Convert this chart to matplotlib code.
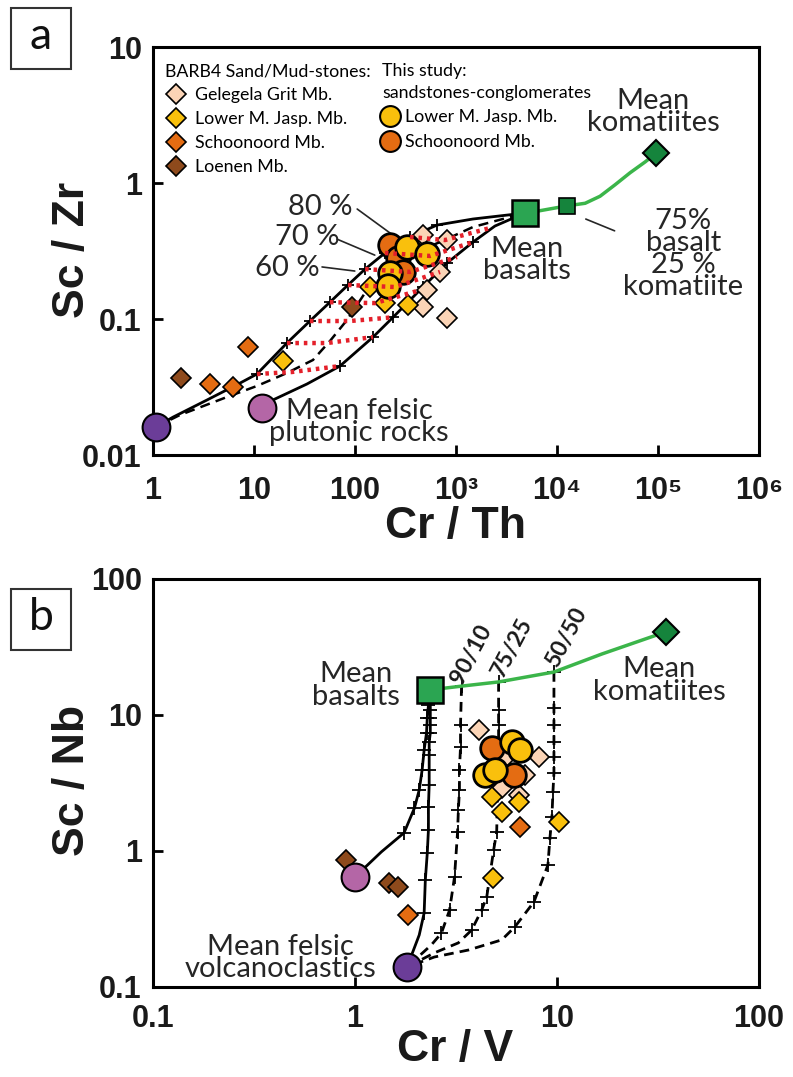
import matplotlib
matplotlib.use('Agg')
import matplotlib.pyplot as plt
from matplotlib.lines import Line2D
from matplotlib.patches import Rectangle

plt.rcParams['font.family'] = ['Lato', 'DejaVu Sans']
NARROW = ['Liberation Sans Narrow', 'Liberation Sans', 'DejaVu Sans']

PEACH = '#fbd4b6'
GOLD = '#f9c00c'
ORANGE = '#e46c12'
BROWN = '#8e4a1c'
PURPLE = '#6b3d98'
PINK = '#b466a6'
GREEN = '#2ba552'
DKGREEN = '#15843c'
GREENLINE = '#3bb54a'
RED = '#e4202a'

# ---------------- panel a : Cr/Th vs Sc/Zr ----------------
a_gelegela_x = [471, 815, 695, 516, 471, 815]
a_gelegela_y = [0.415, 0.381, 0.222, 0.163, 0.122, 0.102]
a_ljasp_x = [141, 198, 335, 19.4]
a_ljasp_y = [0.172, 0.131, 0.127, 0.0491]
a_schoon_x = [8.73, 3.67, 6.2]
a_schoon_y = [0.0622, 0.0333, 0.0316]
a_loenen_x = [1.89, 93.4]
a_loenen_y = [0.0368, 0.122]
a_study_ljasp_x = [327, 516, 222, 212]
a_study_ljasp_y = [0.338, 0.301, 0.218, 0.175]
a_study_schoon_x = [222, 267, 299]
a_study_schoon_y = [0.350, 0.281, 0.222]

a_felsic = (1.07, 0.0161)
a_plutonic = (12.0, 0.0222)
a_basalt = (4820, 0.602)
a_mix7525 = (12600, 0.68)
a_komatiite = (96000, 1.66)

a_upper_x = [1.07, 1.58, 3.43, 7.27, 10.7, 21.2, 35.8, 56.5, 85.3, 126, 198, 351, 649, 1473, 4820]
a_upper_y = [0.0161, 0.019, 0.0254, 0.0338, 0.0394, 0.0666, 0.0967, 0.133, 0.178, 0.233, 0.306, 0.401, 0.491, 0.544, 0.602]
a_mid_x = [1.07, 1.85, 5.4, 10.7, 21.2, 38.4, 56.5, 83.4, 131, 207, 375, 695, 1473, 4820]
a_mid_y = [0.0161, 0.0197, 0.0267, 0.0322, 0.0401, 0.05, 0.0689, 0.0984, 0.163, 0.229, 0.306, 0.368, 0.475, 0.602]
a_lower_x = [12.0, 15.4, 33.5, 71, 151, 238, 471, 815, 1473, 2430, 4820]
a_lower_y = [0.0222, 0.0254, 0.0333, 0.0451, 0.0737, 0.103, 0.172, 0.258, 0.368, 0.483, 0.602]
a_green_x = [4820, 6300, 12600, 19000, 26700, 37500, 52900, 74600, 96000]
a_green_y = [0.602, 0.62, 0.68, 0.71, 0.80, 0.97, 1.19, 1.43, 1.66]

# red dotted iso-proportion lines (upper curve -> lower curve)
a_iso_x = [[10.7, 23.8, 71], [21.2, 52.8, 151], [35.8, 89.2, 238], [56.5, 158, 440],
           [85.3, 249, 695], [126, 351, 1023], [198, 553, 1473], [351, 778, 2172]]
a_iso_y = [[0.0394, 0.0408, 0.0451], [0.0666, 0.0666, 0.0737], [0.0967, 0.0967, 0.103],
           [0.133, 0.131, 0.163], [0.178, 0.172, 0.222], [0.233, 0.222, 0.286],
           [0.306, 0.291, 0.368], [0.401, 0.381, 0.467]]

a_xticks = [1, 10, 100, 1e3, 1e4, 1e5, 1e6]
a_xlabels = ['1', '10', '100', '10³', '10⁴', '10⁵', '10⁶']
a_yticks = [0.01, 0.1, 1, 10]
a_ylabels = ['0.01', '0.1', '1', '10']

# ---------------- panel b : Cr/V vs Sc/Nb ----------------
b_gelegela_x = [4.09, 8.13, 5.51, 6.93, 5.33, 6.47]
b_gelegela_y = [7.76, 4.91, 4.83, 3.62, 2.91, 2.58]
b_ljasp_x = [4.75, 6.47, 5.33, 10.2, 4.81]
b_ljasp_y = [2.49, 2.29, 1.94, 1.63, 0.632]
b_schoon_x = [6.55, 1.84]
b_schoon_y = [1.50, 0.338]
b_loenen_x = [0.90, 1.48, 1.64]
b_loenen_y = [0.859, 0.582, 0.543]
b_study_ljasp_x = [5.97, 6.55, 4.38, 4.92]
b_study_ljasp_y = [6.33, 5.53, 3.62, 3.94]
b_study_schoon_x = [4.75, 6.11]
b_study_schoon_y = [5.72, 3.62]

b_felsic = (1.81, 0.140)
b_pink = (1.0, 0.644)
b_basalt = (2.36, 15.3)
b_komatiite = (34.5, 40.8)

b_pinkline_x = [1.0, 1.35, 1.75, 1.97, 2.08, 2.15, 2.20, 2.26, 2.28, 2.31, 2.36]
b_pinkline_y = [0.644, 0.984, 1.36, 2.07, 2.81, 3.94, 5.53, 7.38, 9.51, 11.8, 15.3]
b_solid_x = [1.81, 2.08, 2.20, 2.23, 2.28, 2.31, 2.31, 2.33, 2.33, 2.33, 2.33, 2.36, 2.36, 2.36, 2.36, 2.36]
b_solid_y = [0.140, 0.241, 0.350, 0.612, 0.966, 1.43, 2.11, 3.06, 3.94, 5.08, 6.33, 7.38, 8.44, 9.51, 10.9, 15.3]
b_m9010_x = [3.37, 3.33, 3.33, 3.29, 3.29, 3.25, 3.22, 3.11, 2.94, 2.68, 2.39, 1.81]
b_m9010_y = [16.3, 8.44, 5.82, 3.94, 2.81, 2.00, 1.38, 0.644, 0.368, 0.249, 0.204, 0.140]
b_m7525_x = [5.14, 5.14, 5.14, 5.14, 5.08, 5.03, 4.86, 4.49, 4.24, 3.78, 3.25, 2.47, 1.81]
b_m7525_y = [17.5, 10.9, 8.44, 4.91, 2.81, 1.38, 1.02, 0.459, 0.368, 0.262, 0.211, 0.178, 0.140]
b_m5050_x = [9.66, 9.66, 9.66, 9.66, 9.66, 9.66, 9.55, 9.44, 9.23, 9.02, 7.69, 6.18, 5.33, 3.65, 2.47, 1.81]
b_m5050_y = [20.7, 11.25, 8.44, 6.33, 4.91, 3.75, 2.72, 1.78, 1.25, 0.789, 0.422, 0.276, 0.222, 0.187, 0.166, 0.140]
b_green_x = [2.36, 3.37, 5.14, 9.66, 16.7, 34.5]
b_green_y = [15.3, 16.3, 17.5, 20.7, 28.1, 40.8]

b_ticks = [0.1, 1, 10, 100]
b_labels = ['0.1', '1', '10', '100']


def diamonds(ax, x, y, c, ms=10, z=5):
    ax.plot(x, y, ls='none', marker='D', ms=ms, mfc=c, mec='k', mew=1.2, zorder=z)


def circles(ax, x, y, c, ms=17, z=6):
    ax.plot(x, y, ls='none', marker='o', ms=ms, mfc=c, mec='k', mew=2.0, zorder=z)


def style_axes(ax, xt, xl, yt, yl):
    ax.set_xscale('log')
    ax.set_yscale('log')
    ax.set_xticks(xt, labels=xl)
    ax.set_yticks(yt, labels=yl)
    ax.minorticks_off()
    ax.set_xlim(xt[0], xt[-1])
    ax.set_ylim(yt[0], yt[-1])
    ax.tick_params(direction='in', length=7, width=2)
    ax.tick_params(axis='x', pad=15)
    ax.tick_params(axis='y', pad=8)
    for lab in ax.get_xticklabels() + ax.get_yticklabels():
        lab.set_fontfamily(NARROW)
        lab.set_fontweight('bold')
        lab.set_fontsize(22)
        lab.set_color('#1a1a1a')
    for s in ax.spines.values():
        s.set_linewidth(2.2)


fig = plt.figure(figsize=(7.93, 10.77), dpi=100)
axa = fig.add_axes([0.1929, 0.5775, 0.7642, 0.3788])
axb = fig.add_axes([0.1929, 0.0836, 0.7642, 0.3788])

# ---- panel a ----
ax = axa
style_axes(ax, a_xticks, a_xlabels, a_yticks, a_ylabels)
ax.plot(a_upper_x, a_upper_y, color='k', lw=2, marker='+', ms=9, mew=1.3,
        markevery=list(range(4, 13)), zorder=3)
ax.plot(a_mid_x, a_mid_y, color='k', lw=1.8, ls=(0, (4, 2.5)), zorder=3)
ax.plot(a_lower_x, a_lower_y, color='k', lw=2, marker='+', ms=9, mew=1.3,
        markevery=list(range(3, 9)), zorder=3)
ax.plot(a_green_x, a_green_y, color=GREENLINE, lw=2.5, zorder=3)
for xs, ys in zip(a_iso_x, a_iso_y):
    ax.plot(xs, ys, color=RED, lw=3.2, ls=(0, (0.8, 1.1)), zorder=8)

diamonds(ax, a_gelegela_x, a_gelegela_y, PEACH)
diamonds(ax, a_ljasp_x, a_ljasp_y, GOLD)
diamonds(ax, a_schoon_x, a_schoon_y, ORANGE)
diamonds(ax, a_loenen_x, a_loenen_y, BROWN)
circles(ax, a_study_schoon_x, a_study_schoon_y, ORANGE)
circles(ax, a_study_ljasp_x, a_study_ljasp_y, GOLD)

ax.plot(*a_felsic, marker='o', ms=20, mfc=PURPLE, mec='k', mew=1.5, zorder=7, clip_on=False)
ax.plot(*a_plutonic, marker='o', ms=20, mfc=PINK, mec='k', mew=1.5, zorder=7)
ax.plot(*a_basalt, marker='s', ms=19, mfc=GREEN, mec='k', mew=1.8, zorder=7)
ax.plot(*a_mix7525, marker='s', ms=12, mfc=DKGREEN, mec='k', mew=1.2, zorder=7)
ax.plot(*a_komatiite, marker='D', ms=13, mfc=DKGREEN, mec='k', mew=1.5, zorder=7)

txt = dict(fontsize=21, color='#262626', transform=ax.transAxes, ha='center', va='center')
ax.text(0.825, 0.841, 'Mean\nkomatiites', linespacing=0.85, **txt)
ax.text(0.875, 0.493, '75%\nbasalt\n25 %\nkomatiite', linespacing=0.82, **txt)
ax.text(0.617, 0.478, 'Mean\nbasalts', linespacing=0.85, **txt)
ax.text(0.340, 0.081, 'Mean felsic\nplutonic rocks', linespacing=0.85, **txt)
ax.annotate('', xy=(0.766, 0.547), xytext=(0.710, 0.581), xycoords='axes fraction',
            arrowprops=dict(arrowstyle='-', color='#262626', lw=1.2))
for lab, pos, p0, p1 in [('80 %', (0.276, 0.608), (0.337, 0.603), (0.396, 0.539)),
                         ('70 %', (0.254, 0.534), (0.304, 0.529), (0.366, 0.490)),
                         ('60 %', (0.221, 0.458), (0.279, 0.461), (0.333, 0.451))]:
    ax.text(pos[0], pos[1], lab, **txt)
    ax.annotate('', xy=p1, xytext=p0, xycoords='axes fraction',
                arrowprops=dict(arrowstyle='-', color='#262626', lw=1.2, shrinkA=0, shrinkB=0))

h1 = [Line2D([], [], ls='none', marker='D', ms=10, mfc=c, mec='k', mew=1.2)
      for c in (PEACH, GOLD, ORANGE, BROWN)]
leg1 = ax.legend(h1, ['Gelegela Grit Mb.', 'Lower M. Jasp. Mb.', 'Schoonoord Mb.', 'Loenen Mb.'],
                 title='BARB4 Sand/Mud-stones:', loc='upper left', bbox_to_anchor=(0.020, 0.960),
                 frameon=False, alignment='left', fontsize=12.8, title_fontsize=12.8,
                 handlelength=1.2, handletextpad=0.5, labelspacing=0.45, borderaxespad=0, borderpad=0)
ax.add_artist(leg1)
h2 = [Line2D([], [], ls='none', marker='o', ms=15, mfc=c, mec='k', mew=1.5) for c in (GOLD, ORANGE)]
leg2 = ax.legend(h2, ['Lower M. Jasp. Mb.', 'Schoonoord Mb.'],
                 title='This study:\nsandstones-conglomerates', loc='upper left', bbox_to_anchor=(0.378, 0.960),
                 frameon=False, alignment='left', fontsize=12.8, title_fontsize=12.8,
                 handlelength=0.9, handletextpad=0.4, labelspacing=0.5, borderaxespad=0, borderpad=0)
leg2.get_title().set_linespacing(1.4)

# ---- panel b ----
ax = axb
style_axes(ax, b_ticks, b_labels, b_ticks, b_labels)
ax.tick_params(axis='x', pad=12)
ax.plot(b_pinkline_x, b_pinkline_y, color='k', lw=2, marker='+', ms=10, mew=1.3,
        markevery=list(range(2, 10)), zorder=3)
ax.plot(b_solid_x, b_solid_y, color='k', lw=2, marker='+', ms=10, mew=1.3,
        markevery=list(range(2, 15)), zorder=3)
for xs, ys, n in [(b_m9010_x, b_m9010_y, 10), (b_m7525_x, b_m7525_y, 10), (b_m5050_x, b_m5050_y, 12)]:
    ax.plot(xs, ys, color='k', lw=2, ls=(0, (3.5, 2.2)), marker='+', ms=10, mew=1.3,
            markevery=list(range(0, n)), zorder=3)
ax.plot(b_green_x, b_green_y, color=GREENLINE, lw=2.5, zorder=3)

diamonds(ax, b_gelegela_x, b_gelegela_y, PEACH)
diamonds(ax, b_ljasp_x, b_ljasp_y, GOLD)
diamonds(ax, b_schoon_x, b_schoon_y, ORANGE)
diamonds(ax, b_loenen_x, b_loenen_y, BROWN)
circles(ax, b_study_schoon_x, b_study_schoon_y, ORANGE)
circles(ax, b_study_ljasp_x, b_study_ljasp_y, GOLD)

ax.plot(*b_felsic, marker='o', ms=20, mfc=PURPLE, mec='k', mew=1.5, zorder=7)
ax.plot(*b_pink, marker='o', ms=20, mfc=PINK, mec='k', mew=1.5, zorder=7)
ax.plot(*b_basalt, marker='s', ms=19, mfc=GREEN, mec='k', mew=1.8, zorder=7)
ax.plot(*b_komatiite, marker='D', ms=13, mfc=DKGREEN, mec='k', mew=1.5, zorder=7)

txt = dict(fontsize=21, color='#262626', transform=ax.transAxes, ha='center', va='center')
ax.text(0.335, 0.738, 'Mean\nbasalts', linespacing=0.85, **txt)
ax.text(0.835, 0.752, 'Mean\nkomatiites', linespacing=0.85, **txt)
ax.text(0.210, 0.071, 'Mean felsic\nvolcanoclastics', linespacing=0.85, **txt)
for lab, pos in [('90/10', (0.526, 0.815)), ('75/25', (0.592, 0.832)), ('50/50', (0.682, 0.856))]:
    ax.text(pos[0], pos[1], lab, rotation=62, fontsize=16.5, fontweight='bold',
            color='#1a1a1a', transform=ax.transAxes, ha='center', va='center')

# ---- labels and panel letters ----
lab = dict(fontfamily=NARROW, fontweight='bold', fontsize=32, color='#1a1a1a', ha='center', va='center')
fig.text(0.0908, 0.7679, 'Sc / Zr', rotation=90, **lab)
fig.text(0.575, 0.5107, 'Cr / Th', **lab)
fig.text(0.0908, 0.2758, 'Sc / Nb', rotation=90, **lab)
fig.text(0.5738, 0.0251, 'Cr / V', **lab)

for y0, letter in [(0.9359, 'a'), (0.3965, 'b')]:
    fig.patches.append(Rectangle((0.0139, y0), 0.0757, 0.0566, transform=fig.transFigure,
                                 fill=False, ec='#333333', lw=1.5))
    fig.text(0.0139 + 0.0757 / 2, y0 + 0.0566 / 2 + 0.002, letter, fontsize=32,
             ha='center', va='center', color='#111111')

plt.savefig('out.png', dpi=100)
